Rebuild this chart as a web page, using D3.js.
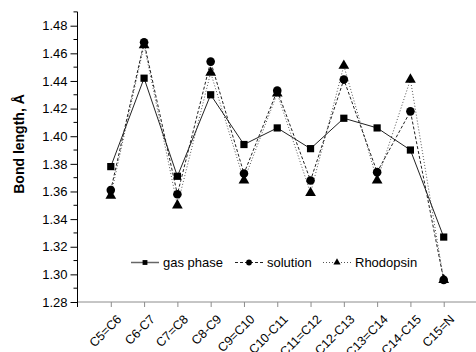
<!DOCTYPE html>
<html>
<head>
<meta charset="utf-8">
<script src="https://cdn.jsdelivr.net/npm/d3@7"></script>
<style>
  body { margin: 0; background: #fff; }
  svg { font-family: "Liberation Sans", Arial, sans-serif; }
</style>
</head>
<body>
<div class="chart"></div>
<script>
const width = 476;
const height = 352;

// bonds along the chain
const bonds = ["C5=C6", "C6-C7", "C7=C8", "C8-C9", "C9=C10", "C10-C11",
               "C11=C12", "C12-C13", "C13=C14", "C14-C15", "C15=N"];
const gasPhase  = [1.378, 1.442, 1.371, 1.430, 1.394, 1.406, 1.391, 1.413, 1.406, 1.390, 1.327];
const solution  = [1.361, 1.468, 1.358, 1.454, 1.373, 1.433, 1.368, 1.441, 1.374, 1.418, 1.296];
const rhodopsin = [1.357, 1.466, 1.350, 1.446, 1.368, 1.431, 1.359, 1.451, 1.368, 1.441, 1.296];
const yTicks = [1.28, 1.30, 1.32, 1.34, 1.36, 1.38, 1.40, 1.42, 1.44, 1.46, 1.48];
const yMinor = [1.29, 1.31, 1.33, 1.35, 1.37, 1.39, 1.41, 1.43, 1.45, 1.47, 1.49];

const xScale = d3.scaleLinear()
    .domain([0, bonds.length + 1])
    .range([77.5, 477]);

const yScale = d3.scaleLinear()
    .domain([1.28, 1.48])
    .range([302, 25.7]);

const svg = d3.select("div.chart")
    .append("svg")
    .attr("width", width)
    .attr("height", height);

// x axis (gray)
const xAxis = svg.append("g")
    .attr("transform", `translate(0,${yScale(1.28)})`)
    .call(d3.axisBottom(xScale)
        .tickValues(d3.range(1, bonds.length + 1))
        .tickSize(5)
        .tickSizeOuter(0)
        .tickFormat(i => bonds[i - 1]));
xAxis.select(".domain").attr("stroke", "#8c8c8c").attr("d", `M77.5,0H476`);
xAxis.selectAll(".tick line").attr("stroke", "#8c8c8c");
xAxis.selectAll(".tick text")
    .attr("font-size", 12.5)
    .attr("fill", "#000")
    .attr("text-anchor", "end")
    .attr("dy", null)
    .attr("y", 0)
    .attr("transform", "translate(11,18) rotate(-45)");

// y axis
const yAxis = svg.append("g")
    .attr("transform", `translate(77.5,0)`)
    .call(d3.axisLeft(yScale)
        .tickValues(yTicks)
        .tickSize(7)
        .tickFormat(d3.format(".2f")));
yAxis.select(".domain").remove();
yAxis.selectAll(".tick text").attr("font-size", 13).attr("x", -10);

svg.append("g")
    .attr("transform", `translate(77.5,0)`)
    .selectAll("line")
    .data(yMinor)
    .join("line")
    .attr("x1", -4).attr("x2", 0)
    .attr("y1", d => yScale(d)).attr("y2", d => yScale(d))
    .attr("stroke", "#000");

svg.append("line")
    .attr("x1", 77.5).attr("x2", 77.5)
    .attr("y1", yScale(1.49)).attr("y2", yScale(1.28) + 5)
    .attr("stroke", "#000");

svg.append("text")
    .attr("transform", `translate(24,144) rotate(-90)`)
    .attr("text-anchor", "middle")
    .attr("font-size", 14)
    .attr("font-weight", "bold")
    .text("Bond length, Å");

const series = [
    { name: "gas phase", values: gasPhase, dash: null, color: "#222", marker: d3.symbolSquare, size: 52 },
    { name: "solution", values: solution, dash: "3,2", color: "#222", marker: d3.symbolCircle, size: 58 },
    { name: "Rhodopsin", values: rhodopsin, dash: "1,2", color: "#555", marker: d3.symbolTriangle, size: 50 }
];

const line = d3.line()
    .x((d, i) => xScale(i + 1))
    .y(d => yScale(d));

// draw rhodopsin first so others sit on top
series.slice().reverse().forEach(s => {
    svg.append("path")
        .datum(s.values)
        .attr("fill", "none")
        .attr("stroke", s.color)
        .attr("stroke-width", 1)
        .attr("stroke-dasharray", s.dash)
        .attr("d", line);
});
series.slice().reverse().forEach(s => {
    svg.append("g")
        .selectAll("path")
        .data(s.values)
        .join("path")
        .attr("transform", (d, i) => `translate(${xScale(i + 1)},${yScale(d)})`)
        .attr("d", d3.symbol(s.marker, s.size))
        .attr("fill", "#000");
});

// legend
const legendY = 262.5;
const legendX = [131, 235, 323];
series.forEach((s, k) => {
    const g = svg.append("g").attr("transform", `translate(${legendX[k]},${legendY})`);
    g.append("line")
        .attr("x1", 0).attr("x2", 28)
        .attr("stroke", k === 0 ? "#666" : s.color)
        .attr("stroke-width", k === 0 ? 1.5 : 1)
        .attr("stroke-dasharray", s.dash);
    g.append("path")
        .attr("transform", "translate(14,0)")
        .attr("d", d3.symbol(s.marker, s.size * 0.45))
        .attr("fill", "#000");
    g.append("text")
        .attr("x", 32)
        .attr("dy", "0.35em")
        .attr("font-size", 13)
        .text(s.name);
});
</script>
</body>
</html>
